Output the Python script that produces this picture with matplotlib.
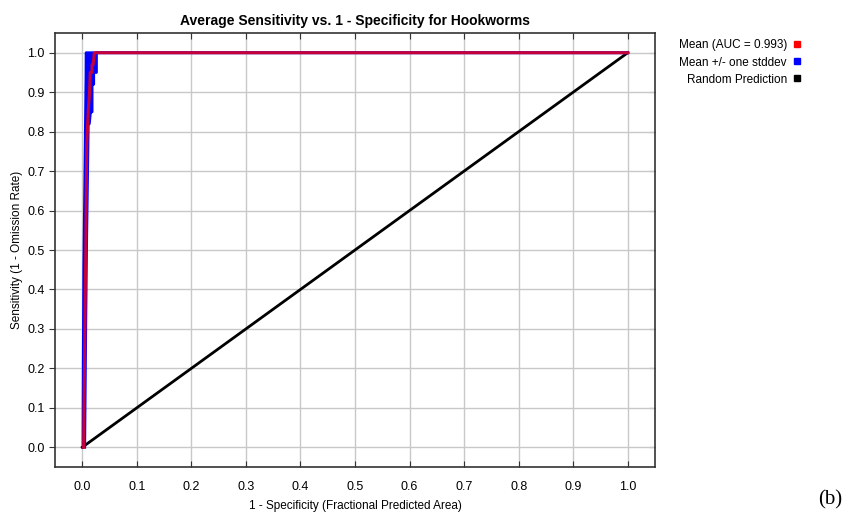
import numpy as np
import matplotlib.pyplot as plt
from matplotlib.lines import Line2D

# -----------------------------
# DATA
# -----------------------------
mean_x = [0.0024, 0.004, 0.0064, 0.0082, 0.011, 0.0133, 0.0146, 0.0177, 0.018, 0.020, 0.022, 1.0]
mean_y = [0.0, 0.195, 0.50, 0.767, 0.855, 0.90, 0.95, 0.95, 0.97, 0.97, 1.0, 1.0]

upper_x = [0.0012, 0.0018, 0.0028, 0.0045, 0.0058, 0.0068, 0.0070, 1.0]
upper_y = [0.0, 0.22, 0.46, 0.66, 0.82, 0.94, 1.0, 1.0]

lower_x = [0.0045, 0.0060, 0.0078, 0.0090, 0.0100, 0.0110, 0.0130, 0.0150, 0.0180,
           0.0180, 0.0210, 0.0210, 0.0260, 0.0260, 1.0]
lower_y = [0.0, 0.25, 0.50, 0.62, 0.72, 0.82, 0.82, 0.85, 0.85,
           0.92, 0.92, 0.95, 0.95, 1.0, 1.0]

random_x = [0.0, 1.0]
random_y = [0.0, 1.0]

ticks = np.round(np.arange(0, 1.01, 0.1), 1)
tick_labels = [f"{t:.1f}" for t in ticks]

legend_labels = ["Mean (AUC = 0.993)", "Mean +/- one stddev", "Random Prediction"]
legend_colors = ["#ff0000", "#0000ff", "#000000"]

# -----------------------------
# PLOT
# -----------------------------
plt.rcParams["font.family"] = ["Liberation Sans", "DejaVu Sans"]

fig = plt.figure(figsize=(8.54, 5.19), dpi=100)
ax = fig.add_axes([0.0644, 0.1002, 0.7026, 0.8362])

ax.plot(random_x, random_y, color="black", linewidth=2, zorder=2)

band_x = np.r_[upper_x, lower_x[::-1]]
band_y = np.r_[upper_y, lower_y[::-1]]
ax.fill(band_x, band_y, color="#0000ff", linewidth=0, zorder=3)
ax.plot(upper_x, upper_y, color="#0000ff", linewidth=2, zorder=3)
ax.plot(lower_x, lower_y, color="#0000ff", linewidth=2, zorder=3)
ax.plot(mean_x, mean_y, color="#ff0000", linewidth=2.2, alpha=0.78, zorder=4)

ax.set_xlim(-0.05, 1.05)
ax.set_ylim(-0.05, 1.05)
ax.set_xticks(ticks)
ax.set_yticks(ticks)
ax.set_xticklabels(tick_labels)
ax.set_yticklabels(tick_labels)
ax.grid(color="#c8c8c8", linewidth=1)
ax.set_axisbelow(True)

ax.tick_params(axis="x", direction="in", top=True, bottom=True, length=4,
               labelsize=9, pad=10, colors="#333333", labelcolor="black")
ax.tick_params(axis="y", direction="out", left=True, right=False, length=4,
               labelsize=9, colors="#333333", labelcolor="black")
# right side ticks point inwards
sec = ax.secondary_yaxis("right")
sec.set_yticks(ticks)
sec.set_yticklabels([])
sec.tick_params(direction="in", length=4, colors="#333333")
sec.spines["right"].set_visible(False)

for sp in ax.spines.values():
    sp.set_color("#333333")
    sp.set_linewidth(1.2)

ax.set_title("Average Sensitivity vs. 1 - Specificity for Hookworms",
             fontsize=10, fontweight="bold", pad=6)
ax.set_xlabel("1 - Specificity (Fractional Predicted Area)", fontsize=8.5, labelpad=5)
ax.set_ylabel("Sensitivity (1 - Omission Rate)", fontsize=8.5, labelpad=3)

# legend to the right, text right-aligned with coloured squares
for i, (lab, col) in enumerate(zip(legend_labels, legend_colors)):
    y = 1 - (45 + 17.5 * i) / 519
    fig.text(787 / 854, y, lab, ha="right", va="center", fontsize=8.5)
    fig.add_artist(Line2D([797 / 854], [y + 1.5 / 519], marker="s", markersize=4.5,
                          color=col, linestyle="none", transform=fig.transFigure))

fig.text(830 / 854, 1 - 500 / 519, "(b)", ha="center", va="center",
         fontsize=15, family="Liberation Serif")

plt.savefig("out.png", dpi=100)
